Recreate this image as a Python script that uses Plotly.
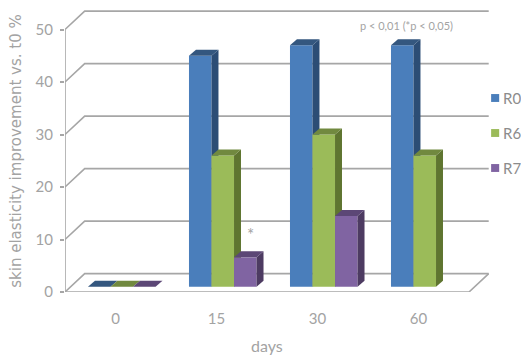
import plotly.graph_objects as go

days = ["0", "15", "30", "60"]
r0 = [0, 44, 46, 46]
r6 = [0, 25, 29, 25]
r7 = [0, 5.6, 13.5, None]
y_ticks = [0, 10, 20, 30, 40, 50]
series = [
    ("R0", r0, "#4a7ebb", "#2c4d75", "#34577f"),
    ("R6", r6, "#9bbb59", "#5f7530", "#71893f"),
    ("R7", r7, "#8064a2", "#4d3b62", "#5c4776"),
]

GRAY = "#a6a6a6"
TEXT = "#a3a3a3"
FONT = "Lato"
# projection of the pseudo-3D chart, in axis units
WALL_DX, WALL_DY = 0.195, 3.5
DEPTH_DX, DEPTH_DY = 0.069, 1.14
BAR_W, BAR_BASE, GROUP_SHIFT = 0.223, 1.0, 0.062
X0, X1 = -0.5, 3.5

fig = go.Figure()


def line(xs, ys, width=1.6, z=0):
    fig.add_trace(go.Scatter(x=xs, y=ys, mode="lines", showlegend=False, hoverinfo="skip",
                             line=dict(color=GRAY, width=width), zorder=z, cliponaxis=False))


# back wall gridlines with their left-hand diagonals
for v in y_ticks:
    line([X0, X0 + WALL_DX, X1 + WALL_DX], [v, v + WALL_DY, v + WALL_DY])
# floor front edge, right diagonal, left axis
line([X0, X1, X1 + WALL_DX], [0, 0, WALL_DY])
line([X0, X0], [0, y_ticks[-1]])
# category ticks below the floor edge
for i in range(len(days) + 1):
    line([X0 + i, X0 + i], [0, -0.8], width=1.2)

for j, (name, vals, front, side, top) in enumerate(series):
    xs = [i + GROUP_SHIFT + (j - 1) * BAR_W for i, v in enumerate(vals) if v is not None]
    ys = [v for v in vals if v is not None]
    z = j + 1
    fig.add_trace(go.Bar(x=xs, y=ys, base=BAR_BASE, width=BAR_W, marker=dict(color=front, line=dict(width=0)),
                         name=name, showlegend=False, zorder=z))
    for x, v in zip(xs, ys):
        l, r = x - BAR_W / 2, x + BAR_W / 2
        t, b = BAR_BASE + v, BAR_BASE
        fig.add_trace(go.Scatter(x=[r, r + DEPTH_DX, r + DEPTH_DX, r, r], y=[b, b + DEPTH_DY, t + DEPTH_DY, t, b],
                                 mode="lines", fill="toself", fillcolor=side, line=dict(width=0),
                                 showlegend=False, hoverinfo="skip", zorder=z))
        fig.add_trace(go.Scatter(x=[l, l + DEPTH_DX, r + DEPTH_DX, r, l], y=[t, t + DEPTH_DY, t + DEPTH_DY, t, t],
                                 mode="lines", fill="toself", fillcolor=top, line=dict(width=0),
                                 showlegend=False, hoverinfo="skip", zorder=z))

annotations = [
    dict(x=1.34, y=11, text="*", showarrow=False, xref="x", yref="y", font=dict(family=FONT, size=17, color=TEXT)),
    dict(x=2.886, y=50.7, text="p &lt; 0,01 (*p &lt; 0,05)", showarrow=False, xref="x", yref="y",
         font=dict(family=FONT, size=11, color=TEXT)),
    dict(x=1.5, y=-0.191, text="days", showarrow=False, xref="x", yref="paper", yanchor="middle",
         font=dict(family=FONT, size=16, color=TEXT)),
]
shapes = []
for j, (name, vals, front, side, top) in enumerate(series):
    yc = 1 - (98 + 35 * j - 10) / 282
    annotations.append(dict(x=1.033, y=yc, xref="paper", yref="paper", xanchor="left", yanchor="middle", text=name,
                            showarrow=False, font=dict(family=FONT, size=15, color="#8c8c8c"), xshift=-2))
    shapes.append(dict(type="rect", xref="paper", yref="paper", x0=1.005, x1=1.024,
                       y0=yc - 0.014, y1=yc + 0.014, fillcolor=front, line=dict(width=0)))

fig.update_layout(
    width=521, height=361, autosize=False, template=None,
    paper_bgcolor="white", plot_bgcolor="white", showlegend=False, barmode="overlay",
    margin=dict(l=65, r=32, t=10, b=69),
    annotations=annotations, shapes=shapes,
    xaxis=dict(range=[X0, X0 + 424 / 101], tickmode="array", tickvals=[0, 1, 2, 3], ticktext=days,
               showgrid=False, zeroline=False, showline=False, ticks="", ticklabelstandoff=16,
               tickfont=dict(family=FONT, size=15, color=TEXT)),
    yaxis=dict(range=[0, 282 / 5.25], tickmode="array", tickvals=y_ticks,
               showgrid=False, zeroline=False, showline=False, ticks="outside", ticklen=4, tickwidth=1.5,
               tickcolor=GRAY, ticklabelstandoff=4, tickfont=dict(family=FONT, size=15, color=TEXT),
               title=dict(text="skin elasticity improvement vs. t0 %", standoff=10,
                          font=dict(family="DejaVu Sans", size=15, color=TEXT))),
)
fig.write_html("out.html", config={"displayModeBar": False},
               post_script="document.body.style.margin='0';document.documentElement.style.overflow='hidden';")
